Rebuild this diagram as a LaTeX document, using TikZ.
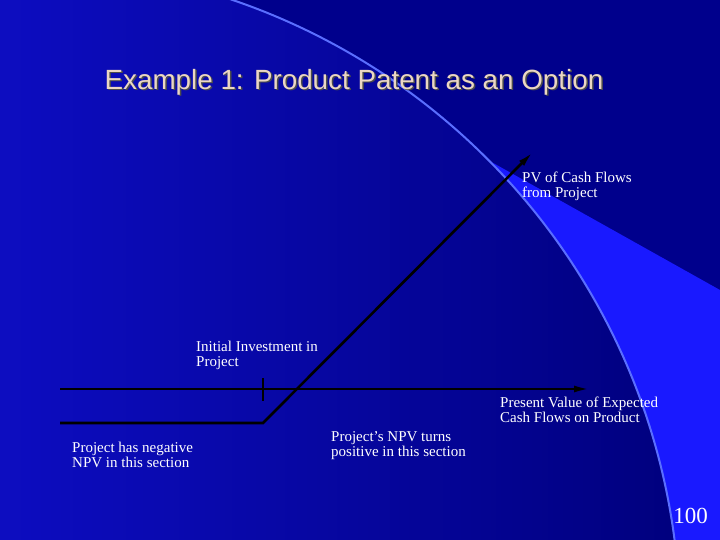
\documentclass[tikz,border=0pt]{standalone}
\usepackage{fontspec}
\setmainfont{Liberation Serif}
\newfontfamily\titlefont{Liberation Sans}
\usetikzlibrary{arrows.meta}
\definecolor{navy}{RGB}{0,0,140}
\definecolor{bright}{RGB}{25,25,255}
\definecolor{peach}{RGB}{235,215,195}
\definecolor{rim}{RGB}{90,110,255}
\tikzset{
  lbl/.style={text=white,font=\fontsize{15}{15}\selectfont,align=left,anchor=north west,inner sep=0pt},
  axis/.style={line width=2.6pt,black},
}
\begin{document}
\begin{tikzpicture}[x=1pt,y=-1pt]
\useasboundingbox (0,0) rectangle (720,540);
\fill[navy] (0,0) rectangle (720,540);
\fill[bright] (470,150) -- (720,290) -- (720,540) -- (400,540) -- cycle;
\begin{scope}
\clip (0,0) rectangle (720,540);
\shade[left color=bright, right color=navy!90!black] (20,625) circle (660);
\draw[rim,line width=2pt] (20,625) circle (660);
\end{scope}
\node[text=black!70,font=\titlefont\fontsize{27.8}{30}\selectfont] at (355.5,83.5) {Example 1: Product Patent as an Option};
\node[text=peach,font=\titlefont\fontsize{27.8}{30}\selectfont] (title) at (354,82) {Example 1: Product Patent as an Option};
\coordinate (a0) at (60,389);
\coordinate (a1) at (590,389);
\coordinate (p0) at (60,423);
\coordinate (k) at (263,423);
\coordinate (p1) at (533,152);
\coordinate (t0) at (263,378);
\coordinate (t1) at (263,401);
\draw[axis,-{Latex[length=16pt,width=7pt]}] (a0) -- (a1);
\draw[axis,-{Latex[length=16pt,width=7pt]}] (p0) -- (k) -- (p1);
\draw[axis] (t0) -- (t1);
\node[lbl] (pv) at (522,172) {PV of Cash Flows\\from Project};
\node[lbl] (ii) at (196,341) {Initial Investment in\\Project};
\node[lbl] (pve) at (500,397) {Present Value of Expected\\Cash Flows on Product};
\node[lbl] (neg) at (72,442) {Project has negative\\NPV in this section};
\node[lbl] (pos) at (331,431) {Project's NPV turns\\positive in this section};
\node[text=white,font=\fontsize{23}{24}\selectfont,anchor=east,inner sep=0pt] (num) at (708,516) {100};
\end{tikzpicture}
\end{document}
